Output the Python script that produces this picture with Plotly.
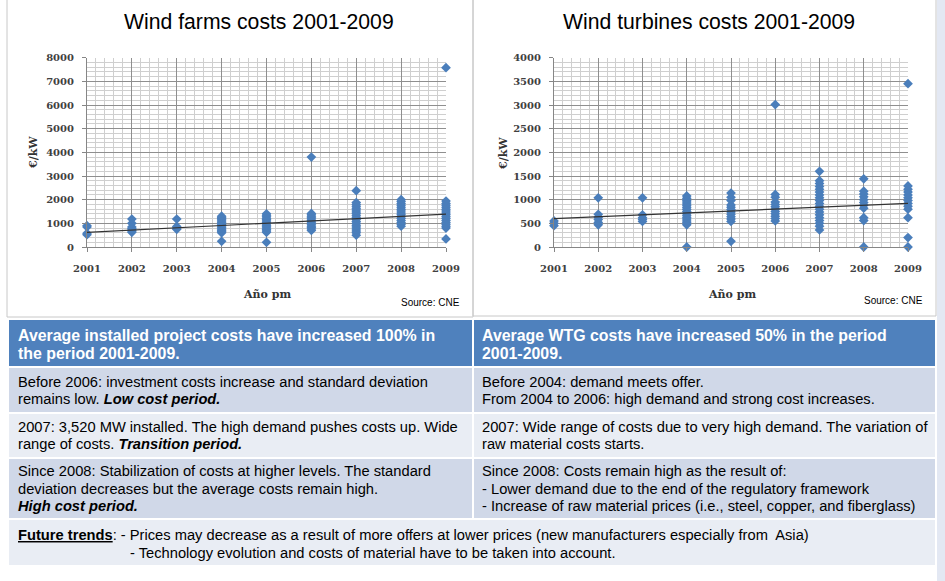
import plotly.graph_objects as go

# ---------------- DATA ----------------
years = [2001, 2002, 2003, 2004, 2005, 2006, 2007, 2008, 2009]
year_labels = ["2001", "2002", "2003", "2004", "2005", "2006", "2007", "2008", "2009"]

farms_2001 = [520, 580, 850, 900]
farms_2002 = [620, 680, 720, 780, 850, 1000, 1180]
farms_2003 = [750, 800, 870, 1180]
farms_2004 = [240, 600, 650, 700, 750, 800, 850, 900, 950, 1000, 1050, 1100, 1150, 1200, 1250, 1300]
farms_2005 = [200, 620, 680, 740, 800, 860, 920, 980, 1040, 1100, 1160, 1220, 1280, 1340, 1400]
farms_2006 = [700, 760, 820, 880, 940, 1000, 1060, 1120, 1180, 1240, 1300, 1360, 1420, 3800]
farms_2007 = [500, 600, 680, 760, 840, 920, 1000, 1080, 1160, 1240, 1320, 1400, 1480, 1560,
              1640, 1720, 1800, 1880, 2380]
farms_2008 = [880, 960, 1040, 1120, 1200, 1280, 1360, 1440, 1520, 1600, 1680, 1760, 1840, 1920, 2000]
farms_2009 = [340, 800, 880, 960, 1040, 1120, 1200, 1280, 1360, 1440, 1520, 1600, 1680, 1760,
              1840, 1940, 7580]

turbines_2001 = [450, 500, 550]
turbines_2002 = [470, 520, 580, 630, 690, 1040]
turbines_2003 = [540, 580, 620, 680, 1040]
turbines_2004 = [0, 470, 510, 550, 590, 630, 670, 710, 750, 790, 830, 870, 910, 950, 990, 1030, 1080]
turbines_2005 = [120, 540, 590, 640, 690, 740, 790, 840, 890, 980, 1050, 1140]
turbines_2006 = [550, 600, 650, 700, 750, 800, 850, 900, 950, 1050, 1110, 3010]
turbines_2007 = [360, 440, 500, 560, 620, 680, 740, 800, 860, 920, 980, 1040, 1100, 1160,
                 1220, 1280, 1340, 1400, 1600]
turbines_2008 = [0, 560, 620, 820, 880, 940, 1000, 1060, 1120, 1180, 1440]
turbines_2009 = [0, 200, 620, 800, 860, 920, 980, 1040, 1100, 1160, 1220, 1290, 3450]

trend_years = [2001, 2009]
farms_trend = [620, 1390]
turbines_trend = [600, 920]

farms_by_year = [farms_2001, farms_2002, farms_2003, farms_2004, farms_2005,
                 farms_2006, farms_2007, farms_2008, farms_2009]
turbines_by_year = [turbines_2001, turbines_2002, turbines_2003, turbines_2004, turbines_2005,
                    turbines_2006, turbines_2007, turbines_2008, turbines_2009]

title_left = "Wind farms costs 2001-2009"
title_right = "Wind turbines costs 2001-2009"

header_left = ["<b>Average installed project costs have increased 100% in</b>",
               "<b>the period 2001-2009.</b>"]
header_right = ["<b>Average WTG costs have increased 50% in the period</b>",
                "<b>2001-2009.</b>"]
row1_left = ["Before 2006: investment costs increase and standard deviation",
             "remains low. <b><i>Low cost period.</i></b>"]
row1_right = ["Before 2004: demand meets offer.",
              "From 2004 to 2006: high demand and strong cost increases."]
row2_left = ["2007: 3,520 MW installed. The high demand pushes costs up. Wide",
             "range of costs. <b><i>Transition period.</i></b>"]
row2_right = ["2007: Wide range of costs due to very high demand. The variation of",
              "raw material costs starts."]
row3_left = ["Since 2008: Stabilization of costs at higher levels. The standard",
             "deviation decreases but the average costs remain high.",
             "<b><i>High cost period.</i></b>"]
row3_right = ["Since 2008: Costs remain high as the result of:",
              "- Lower demand due to the end of the regulatory framework",
              "- Increase of raw material prices (i.e., steel, copper, and fiberglass)"]
footer_1 = ("<b><u>Future trends</u></b>: - Prices may decrease as a result of more offers at lower prices "
            "(new manufacturers especially from  Asia)")
footer_2 = "- Technology evolution and costs of material have to be taken into account."

# ---------------- HELPERS ----------------
W, H = 945, 581


def px(x):
    return x / W


def py(y):
    return 1 - y / H


BLUE = "#4A7EBB"
SANS = "Arial, Liberation Sans, sans-serif"
SERIF = "DejaVu Serif, serif"

fig = go.Figure()


def add_points(data, xa, ya):
    xs, ys = [], []
    for yr, vals in zip(years, data):
        xs += [yr] * len(vals)
        ys += vals
    fig.add_trace(go.Scatter(x=xs, y=ys, mode="markers", xaxis=xa, yaxis=ya,
                             marker=dict(symbol="diamond", size=7.5, color=BLUE),
                             cliponaxis=False, showlegend=False, hoverinfo="x+y"))


add_points(farms_by_year, "x", "y")
fig.add_trace(go.Scatter(x=trend_years, y=farms_trend, mode="lines", xaxis="x", yaxis="y",
                         line=dict(color="#333333", width=1.2), showlegend=False))
add_points(turbines_by_year, "x2", "y2")
fig.add_trace(go.Scatter(x=trend_years, y=turbines_trend, mode="lines", xaxis="x2", yaxis="y2",
                         line=dict(color="#333333", width=1.2), showlegend=False))

tickfont = dict(family=SERIF, size=10, color="#404040", weight="bold")
MAJOR = "#8f8f8f"
MINOR = "#cfcfcf"


def xaxis_cfg(domain):
    return dict(domain=domain, range=[2001, 2009], tickvals=years, ticktext=year_labels,
                showgrid=True, gridcolor=MAJOR, gridwidth=1, zeroline=False, automargin=False,
                showline=True, linecolor="#868686", ticks="outside", ticklen=4,
                tickcolor="#868686", tickfont=tickfont, ticklabelstandoff=8,
                minor=dict(dtick=0.2, tick0=2001, showgrid=True, gridcolor=MINOR, gridwidth=1),
                fixedrange=True)


def yaxis_cfg(domain, rng, dtick, mdtick, anchor):
    return dict(domain=domain, range=rng, dtick=dtick, anchor=anchor, automargin=False,
                showgrid=True, gridcolor=MAJOR, gridwidth=1, zeroline=False,
                showline=True, linecolor="#868686", ticks="outside", ticklen=4,
                tickcolor="#868686", tickfont=tickfont, ticklabelstandoff=6,
                minor=dict(dtick=mdtick, showgrid=True, gridcolor=MINOR, gridwidth=1),
                fixedrange=True)


ydom = [py(247), py(57.7)]
fig.update_layout(
    width=W, height=H, autosize=False,
    margin=dict(l=0, r=0, t=0, b=0, pad=0),
    paper_bgcolor="white", plot_bgcolor="white",
    xaxis=xaxis_cfg([px(87), px(446)]),
    yaxis=yaxis_cfg(ydom, [0, 8000], 1000, 200, "x"),
    xaxis2=dict(xaxis_cfg([px(554), px(908)]), anchor="y2"),
    yaxis2=yaxis_cfg(ydom, [0, 4000], 500, 100, "x2"),
)

# ---------------- SHAPES ----------------
shapes = []


def rect(x0, y0, x1, y1, fill, line=None, layer="below"):
    shapes.append(dict(type="rect", xref="paper", yref="paper",
                       x0=px(x0), x1=px(x1), y0=py(y1), y1=py(y0),
                       fillcolor=fill, layer=layer,
                       line=dict(width=1 if line else 0, color=line or fill)))


# right light-blue strip
rect(937, 0, 945, 581, "#E3E8F3")
# chart panels
rect(7, -2, 473, 317, "rgba(0,0,0,0)", "#C8C8C8")
rect(473, -2, 936, 316, "rgba(0,0,0,0)", "#C8C8C8")
# table
rect(9, 320, 472, 366, "#4F81BD")
rect(474, 320, 935, 366, "#4F81BD")
rect(9, 368, 472, 412, "#D0D8E8")
rect(474, 368, 935, 412, "#D0D8E8")
rect(9, 414, 472, 457, "#E9EDF4")
rect(474, 414, 935, 457, "#E9EDF4")
rect(9, 459, 472, 518, "#D0D8E8")
rect(474, 459, 935, 518, "#D0D8E8")
rect(9, 520, 935, 565, "#E9EDF4")
fig.update_layout(shapes=shapes)

# ---------------- ANNOTATIONS ----------------
ann = []


def text(x, y, s, size=14.7, color="black", family=SANS, xanchor="left", yanchor="middle",
         textangle=0, weight="normal"):
    ann.append(dict(x=px(x), y=py(y), xref="paper", yref="paper", text=s, showarrow=False,
                    xanchor=xanchor, yanchor=yanchor, align="left", textangle=textangle,
                    borderpad=0,
                    font=dict(size=size, color=color, family=family, weight=weight)))


def lines(x, ys, items, **kw):
    for yy, s in zip(ys, items):
        text(x, yy, s, **kw)


text(259, 21, title_left, size=21.2, xanchor="center")
text(709, 21, title_right, size=21.2, xanchor="center")
text(267, 294, "Año pm", size=11, family=SERIF, xanchor="center", color="#333333", weight="bold")
text(732, 294, "Año pm", size=11, family=SERIF, xanchor="center", color="#333333", weight="bold")
text(33, 153, "€/kW", size=11, family=SERIF, xanchor="center", textangle=-90, color="#333333",
     weight="bold")
text(503, 153, "€/kW", size=11, family=SERIF, xanchor="center", textangle=-90, color="#333333",
     weight="bold")
text(430, 302, "Source: CNE", size=10, xanchor="center")
text(893, 300, "Source: CNE", size=10, xanchor="center")

lines(17, [335, 353], header_left, size=15.9, color="white")
lines(481, [335, 353], header_right, size=15.9, color="white")
lines(17, [382, 399], row1_left)
lines(481, [382, 399], row1_right)
lines(17, [427, 444], row2_left)
lines(481, [427, 444], row2_right)
lines(17, [471, 489, 506], row3_left)
lines(481, [471, 489, 506], row3_right)
text(17, 535, footer_1)
text(129, 553, footer_2)

fig.update_layout(annotations=ann)

fig.write_html("out.html", config={"displayModeBar": False},
               post_script="document.body.style.margin='0';")
